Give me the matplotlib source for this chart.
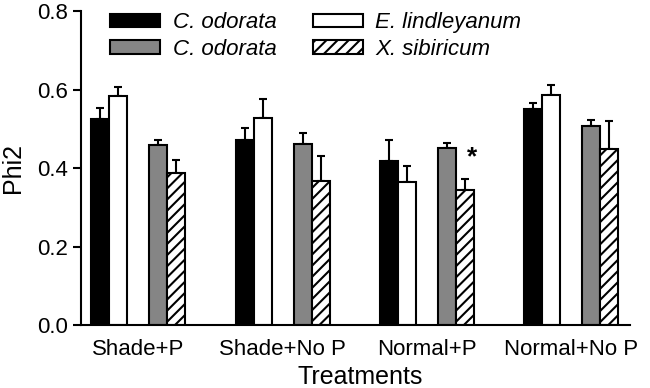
import matplotlib
matplotlib.use("Agg")
import matplotlib.pyplot as plt
import numpy as np
from matplotlib.patches import Patch

plt.rcParams['font.family'] = ['Liberation Sans', 'DejaVu Sans']
plt.rcParams['hatch.linewidth'] = 1.5

treatments = ["Shade+P", "Shade+No P", "Normal+P", "Normal+No P"]
series_labels = ["C. odorata", "E. lindleyanum", "C. odorata", "X. sibiricum"]
co_black = [0.526, 0.471, 0.419, 0.551]
co_black_err = [0.027, 0.032, 0.053, 0.014]
el_white = [0.584, 0.528, 0.365, 0.587]
el_white_err = [0.024, 0.049, 0.041, 0.026]
co_gray = [0.458, 0.462, 0.452, 0.508]
co_gray_err = [0.013, 0.027, 0.012, 0.015]
xs_hatch = [0.387, 0.367, 0.344, 0.449]
xs_hatch_err = [0.034, 0.064, 0.028, 0.070]

fig = plt.figure(figsize=(6.5, 3.88), dpi=100)
ax = fig.add_axes([0.1246, 0.1624, 0.8444, 0.8086])

x = np.arange(len(treatments))
w = 0.125
half_gap = 0.076
offsets = [-half_gap - 1.5 * w, -half_gap - 0.5 * w, half_gap + 0.5 * w, half_gap + 1.5 * w]
vals = [co_black, el_white, co_gray, xs_hatch]
errs = [co_black_err, el_white_err, co_gray_err, xs_hatch_err]
faces = ["black", "white", "#858585", "white"]
hatches = [None, None, None, "///"]

for v, e, off, fc, h in zip(vals, errs, offsets, faces, hatches):
    ax.bar(x + off, v, width=w, color=fc, edgecolor="black", linewidth=1.5,
           hatch=h, zorder=2)
    ax.errorbar(x + off, v, yerr=[np.zeros(len(e)), e], fmt="none",
                ecolor="black", elinewidth=1.5, capsize=2.8, capthick=1.5, zorder=1)

# significance marker
ax.text(x[2] + offsets[3] + 0.05, xs_hatch[2] + xs_hatch_err[2] + 0.055, "*",
        fontsize=19, fontweight="bold", ha="center", va="center")

ax.set_xlim(-0.398, 3.406)
ax.set_ylim(0, 0.8)
ax.set_yticks([0.0, 0.2, 0.4, 0.6, 0.8])
ax.set_yticklabels(["0.0", "0.2", "0.4", "0.6", "0.8"])
ax.set_xticks(x)
ax.set_xticklabels(treatments)
ax.tick_params(axis="x", length=0, labelsize=16, pad=10)
ax.tick_params(axis="y", length=6, width=1.5, labelsize=16, direction="out", pad=3)
for s in ["top", "right"]:
    ax.spines[s].set_visible(False)
for s in ["left", "bottom"]:
    ax.spines[s].set_linewidth(1.5)

ax.set_xlabel("Treatments", fontsize=18)
ax.set_ylabel("Phi2", fontsize=18)
ax.xaxis.set_label_coords(0.509, -0.126)
ax.yaxis.set_label_coords(-0.102, 0.5)

handles = [Patch(facecolor="black", edgecolor="black", linewidth=1.5),
           Patch(facecolor="#858585", edgecolor="black", linewidth=1.5),
           Patch(facecolor="white", edgecolor="black", linewidth=1.5),
           Patch(facecolor="white", edgecolor="black", linewidth=1.5, hatch="///")]
labels = [series_labels[0], series_labels[2], series_labels[1], series_labels[3]]
leg = ax.legend(handles, labels, ncol=2, loc="upper left", bbox_to_anchor=(0.017, 1.06),
                frameon=False, handlelength=2.25, handleheight=0.58, prop={"style": "italic", "size": 16},
                columnspacing=1.6, handletextpad=0.58, labelspacing=0.25)

fig.savefig("out.png", dpi=100)
